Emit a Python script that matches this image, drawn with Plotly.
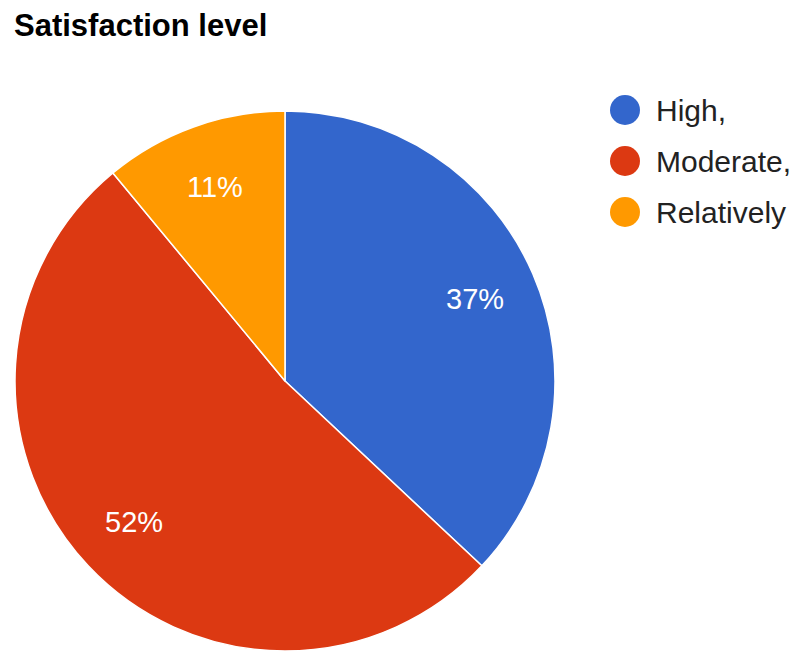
import math
import plotly.graph_objects as go

# Data
categories = ["High,", "Moderate,", "Relatively"]
shares = [37, 52, 11]
colors = ["#3366CC", "#DC3912", "#FF9900"]
title_text = "Satisfaction level"

W, H = 793, 652
FONT = "Arial, 'Liberation Sans', sans-serif"

# Pie placement in pixels
left, right, top, bottom = 13, 557, 111, 651
cx, cy = (left + right) / 2, (top + bottom) / 2
radius = min(right - left, bottom - top) / 2

fig = go.Figure()
fig.add_trace(go.Pie(
    labels=categories,
    values=shares,
    sort=False,
    direction="clockwise",
    rotation=0,
    marker=dict(colors=colors, line=dict(color="white", width=1.5)),
    textinfo="none",
    hoverinfo="label+percent",
    showlegend=False,
    domain=dict(x=[left / W, right / W], y=[1 - bottom / H, 1 - top / H]),
))

annotations = []
shapes = []

# Percentage labels at each slice's mid-angle
total = sum(shares)
cum = 0
for v in shares:
    mid = (cum + v / 2) / total * 2 * math.pi
    cum += v
    r = radius * 0.765
    px = cx + r * math.sin(mid)
    py = cy - r * math.cos(mid)
    annotations.append(dict(
        x=px / W, y=1 - py / H, xref="paper", yref="paper",
        text=f"{round(v / total * 100)}%", showarrow=False,
        xanchor="center", yanchor="middle",
        font=dict(family=FONT, size=29, color="white"),
    ))

# Legend: circle markers with labels
leg_x, leg_y0, leg_step, dot_r = 625, 110, 51, 15
for i, (lab, col) in enumerate(zip(categories, colors)):
    yy = leg_y0 + i * leg_step
    shapes.append(dict(
        type="circle", xref="paper", yref="paper",
        x0=(leg_x - dot_r) / W, x1=(leg_x + dot_r) / W,
        y0=1 - (yy + dot_r) / H, y1=1 - (yy - dot_r) / H,
        fillcolor=col, line=dict(width=0),
    ))
    annotations.append(dict(
        x=654 / W, y=1 - yy / H, xref="paper", yref="paper",
        text=lab, showarrow=False, xanchor="left", yanchor="middle",
        font=dict(family=FONT, size=30, color="#222222"),
    ))

# Title
annotations.append(dict(
    x=12 / W, y=1 - 25 / H, xref="paper", yref="paper",
    text=f"<b>{title_text}</b>", showarrow=False,
    xanchor="left", yanchor="middle",
    font=dict(family=FONT, size=31, color="#000000"),
))

fig.update_layout(
    width=W, height=H,
    margin=dict(l=0, r=0, t=0, b=0),
    paper_bgcolor="white", plot_bgcolor="white",
    annotations=annotations, shapes=shapes,
)

fig.write_html("out.html")
